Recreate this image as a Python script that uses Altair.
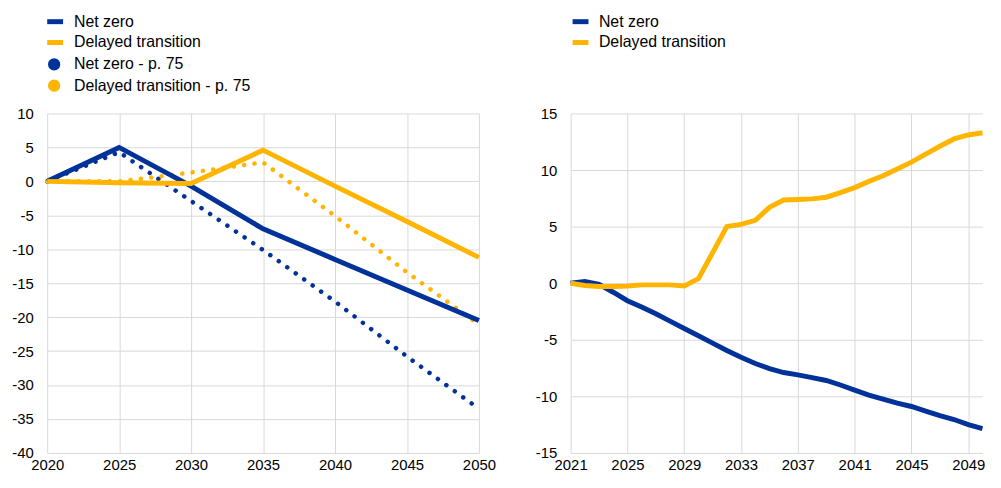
import altair as alt
import pandas as pd

BLUE = "#003299"
ORANGE = "#FFB400"
FONT = "Liberation Sans"

# ---- Left panel data ----
years_left = [2020, 2025, 2030, 2035, 2040, 2045, 2050]
nz_left = [0, 5.0, -0.7, -7.0, -11.5, -16.0, -20.5]
dt_left = [0, -0.2, -0.3, 4.6, -0.7, -5.9, -11.2]
nz_p75 = [0, 4.3, -2.9, -10.1, -17.7, -25.8, -33.5]
dt_p75 = [0, 0.0, 1.3, 2.8, -5.1, -13.4, -21.1]
left_y_ticks = [-40, -35, -30, -25, -20, -15, -10, -5, 0, 5, 10]

# ---- Right panel data ----
years_right = list(range(2021, 2051))
nz_right = [0, 0.15, -0.1, -0.8, -1.55, -2.1, -2.7, -3.35, -4.0, -4.65,
            -5.3, -5.95, -6.55, -7.1, -7.55, -7.9, -8.1, -8.35, -8.6, -9.0,
            -9.45, -9.9, -10.25, -10.6, -10.9, -11.3, -11.7, -12.05, -12.5, -12.85]
dt_right = [0, -0.2, -0.3, -0.3, -0.25, -0.15, -0.15, -0.15, -0.25, 0.4,
            2.7, 5.0, 5.2, 5.55, 6.7, 7.35, 7.4, 7.45, 7.6, 8.0,
            8.45, 9.0, 9.5, 10.1, 10.7, 11.4, 12.1, 12.75, 13.1, 13.3]
right_x_ticks = [2021, 2025, 2029, 2033, 2037, 2041, 2045, 2049]
right_y_ticks = [-15, -10, -5, 0, 5, 10, 15]

solid_names = ["Net zero", "Delayed transition"]
p75_names = ["Net zero - p. 75", "Delayed transition - p. 75"]


def long(years, series_dict, col="series"):
    rows = []
    for name, vals in series_dict.items():
        for yr, v in zip(years, vals):
            rows.append({"year": yr, "value": v, col: name})
    return pd.DataFrame(rows)


left_solid = long(years_left, {"Net zero": nz_left, "Delayed transition": dt_left})
left_dotted = long(years_left, {"Net zero - p. 75": nz_p75, "Delayed transition - p. 75": dt_p75},
                   col="scenario")
right_solid = long(years_right, {"Net zero": nz_right, "Delayed transition": dt_right})

LEG_COMMON = dict(orient="none", title=None, labelFontSize=16, labelFont=FONT,
                  labelColor="#000000", padding=0, offset=0, labelLimit=400)

legend_lines_left = alt.Legend(legendX=-2.5, legendY=-103, symbolType="stroke",
                               symbolSize=256, symbolStrokeWidth=5, rowPadding=0,
                               labelOffset=8.5, **LEG_COMMON)
legend_dots_left = alt.Legend(legendX=-1, legendY=-57.5, symbolType="circle",
                              symbolSize=154, symbolStrokeWidth=0, rowPadding=5.5,
                              labelOffset=12, **LEG_COMMON)
legend_lines_right = alt.Legend(legendX=-0.5, legendY=-103, symbolType="stroke",
                                symbolSize=256, symbolStrokeWidth=5, rowPadding=-1,
                                labelOffset=8, **LEG_COMMON)

HYPHEN = "datum.value < 0 ? '-' + abs(datum.value) : datum.label"

x_left = alt.X("year:Q", scale=alt.Scale(domain=[2020, 2050], nice=False, zero=False),
               axis=alt.Axis(values=years_left, format="d", title=None))
y_left = alt.Y("value:Q", scale=alt.Scale(domain=[-40, 10], nice=False),
               axis=alt.Axis(values=left_y_ticks, title=None, labelExpr=HYPHEN))

solid_l = alt.Chart(left_solid).mark_line(strokeWidth=5).encode(
    x=x_left, y=y_left,
    stroke=alt.Stroke("series:N", scale=alt.Scale(domain=solid_names, range=[BLUE, ORANGE]),
                      legend=legend_lines_left),
    order=alt.Order("year:Q"),
)


def dotted(name, colour):
    return alt.Chart(left_dotted).transform_filter(
        alt.datum.scenario == name
    ).mark_line(strokeWidth=4.5, strokeDash=[0.1, 10.4], strokeCap="round",
                color=colour).encode(x=x_left, y=y_left, order=alt.Order("year:Q"))


dots_legend_l = alt.Chart(left_dotted).transform_filter("false").mark_circle(opacity=1).encode(
    x=x_left, y=y_left,
    fill=alt.Fill("scenario:N", scale=alt.Scale(domain=p75_names, range=[BLUE, ORANGE]),
                  legend=legend_dots_left),
)
H = 342
left = alt.layer(dotted(p75_names[0], BLUE), dotted(p75_names[1], ORANGE),
                 solid_l, dots_legend_l).properties(width=435, height=H)

x_right = alt.X("year:Q", scale=alt.Scale(domain=[2021, 2050], nice=False, zero=False),
                axis=alt.Axis(values=right_x_ticks, format="d", title=None))
y_right = alt.Y("value:Q", scale=alt.Scale(domain=[-15, 15], nice=False),
                axis=alt.Axis(values=right_y_ticks, title=None, labelExpr=HYPHEN))
right = alt.Chart(right_solid).mark_line(strokeWidth=5).encode(
    x=x_right, y=y_right,
    stroke=alt.Stroke("series:N", scale=alt.Scale(domain=solid_names, range=[BLUE, ORANGE]),
                      legend=legend_lines_right),
    order=alt.Order("year:Q"),
).properties(width=415, height=H)

chart = alt.hconcat(left, right, spacing=39.4).resolve_scale(
    stroke="independent", fill="independent"
).properties(
    padding={"left": 3.5, "top": 1.5, "right": 0, "bottom": 0}
).configure_axis(
    grid=True, gridColor="#d9d9d9", gridWidth=1, domain=False, ticks=False, tickSize=0,
    labelFontSize=15, labelFont=FONT, labelColor="#000000", labelPadding=5,
    labelFlush=False,
).configure_axisY(labelPadding=14).configure_view(stroke=None)

chart.save("out.html", embed_options={"renderer": "svg", "actions": False})
